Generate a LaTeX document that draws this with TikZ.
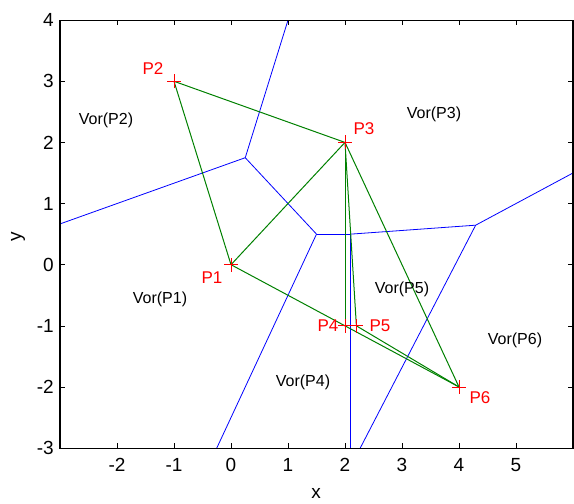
\documentclass[tikz,border=0pt]{standalone}
\usepackage{fontspec}
\setmainfont{Liberation Sans}
\definecolor{mgreen}{RGB}{0,128,0}
\definecolor{mred}{RGB}{255,0,0}
\definecolor{mblue}{RGB}{0,0,255}
\tikzset{
  vor/.style={mblue, line width=0.8pt},
  tri/.style={mgreen, line width=1pt},
  pmark/.style={mred, line width=0.9pt},
  plabel/.style={text=mred, font=\fontsize{17}{19}\selectfont, inner sep=0pt},
  vlabel/.style={text=black, font=\fontsize{16}{18}\selectfont, inner sep=0pt},
  ticklab/.style={font=\fontsize{19}{21}\selectfont, inner sep=0pt},
  axisline/.style={black, line width=1.2pt},
}
\begin{document}
\begin{tikzpicture}[x=1pt,y=1pt]
\useasboundingbox (0,0) rectangle (574,504);
\begin{scope}[shift={(231,239.3)}, x=57pt, y=61.14pt]
  % sites
  \coordinate (P1) at (0,0);
  \coordinate (P2) at (-1,3);
  \coordinate (P3) at (2,2);
  \coordinate (P4) at (2,-1);
  \coordinate (P5) at (2.2,-1);
  \coordinate (P6) at (4,-2);
  % Voronoi vertices and ray ends
  \coordinate (V1) at (0.25,1.75);
  \coordinate (V2) at (1.5,0.5);
  \coordinate (V3) at (2.1,0.5);
  \coordinate (V4) at (4.2923,0.6462);
  \coordinate (RA) at (1,4);
  \coordinate (RB) at (-3,0.6667);
  \coordinate (RC) at (-0.25,-3);
  \coordinate (RD) at (2.1,-3);
  \coordinate (RE) at (2.2667,-3);
  \coordinate (RF) at (6,1.5);
  % axes corners
  \coordinate (BL) at (-3,-3);
  \coordinate (TR) at (6,4);
  % Voronoi edges
  \draw[vor] (V1) -- (RA);
  \draw[vor] (V1) -- (RB);
  \draw[vor] (V1) -- (V2);
  \draw[vor] (V2) -- (RC);
  \draw[vor] (V2) -- (V3);
  \draw[vor] (V3) -- (RD);
  \draw[vor] (V3) -- (V4);
  \draw[vor] (V4) -- (RE);
  \draw[vor] (V4) -- (RF);
  % Delaunay edges
  \draw[tri] (P1) -- (P2);
  \draw[tri] (P2) -- (P3);
  \draw[tri] (P1) -- (P3);
  \draw[tri] (P1) -- (P4);
  \draw[tri] (P3) -- (P4);
  \draw[tri] (P3) -- (P5);
  \draw[tri] (P4) -- (P5);
  \draw[tri] (P3) -- (P6);
  \draw[tri] (P5) -- (P6);
  \draw[tri] (P4) -- (P6);
  % markers
  \foreach \p in {P1,P2,P3,P4,P5,P6}{
    \draw[pmark] ([xshift=-7pt]\p) -- ([xshift=7pt]\p);
    \draw[pmark] ([yshift=-7pt]\p) -- ([yshift=7pt]\p);
  }
  % axes box
  \draw[axisline] (BL) rectangle (TR);
  % ticks
  \foreach \t in {-2,-1,0,1,2,3,4,5}{
    \draw[black, line width=0.6pt] (\t,-3) -- ++(0,5pt);
    \draw[black, line width=0.6pt] (\t,4) -- ++(0,-5pt);
    \node[ticklab, anchor=north] (xt\t) at ([yshift=-10pt]\t,-3) {\t};
  }
  \foreach \t in {-3,-2,-1,0,1,2,3,4}{
    \draw[black, line width=0.6pt] (-3,\t) -- ++(5pt,0);
    \draw[black, line width=0.6pt] (6,\t) -- ++(-5pt,0);
    \node[ticklab, anchor=east] (yt\t) at ([xshift=-6pt]-3,\t) {\t};
  }
\end{scope}
% point labels
\node[plabel] (L1) at (212,226) {P1};
\node[plabel] (L2) at (153,435) {P2};
\node[plabel] (L3) at (364,375) {P3};
\node[plabel] (L4) at (328,178) {P4};
\node[plabel] (L5) at (380,178) {P5};
\node[plabel] (L6) at (480,106) {P6};
% region labels
\node[vlabel] (R1) at (160,205) {Vor(P1)};
\node[vlabel] (R2) at (106,384) {Vor(P2)};
\node[vlabel] (R3) at (434,390) {Vor(P3)};
\node[vlabel] (R4) at (303,122) {Vor(P4)};
\node[vlabel] (R5) at (402,215) {Vor(P5)};
\node[vlabel] (R6) at (515,164) {Vor(P6)};
% axis labels
\node[ticklab] (XL) at (316,11) {x};
\node[ticklab, rotate=90] (YL) at (18,267) {y};
\end{tikzpicture}
\end{document}
